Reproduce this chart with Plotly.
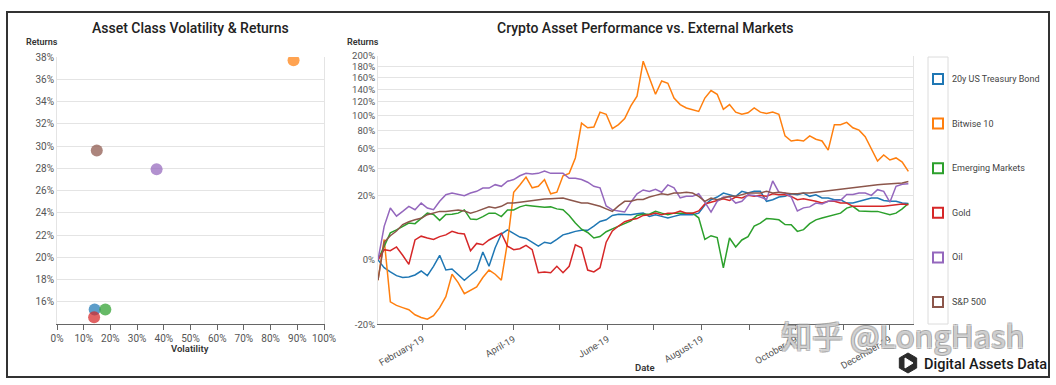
import numpy as np
import pandas as pd
import plotly.graph_objects as go

W, H = 1056, 385


def px(x):
    return x / W


def py(y):
    return 1 - y / H


# ---------------- data ----------------
assets = ["20y US Treasury Bond", "Bitwise 10", "Emerging Markets", "Gold", "Oil", "S&P 500"]
colors = ["#1f77b4", "#ff7f0e", "#2ca02c", "#d62728", "#9467bd", "#8c564b"]

# left panel: annualised volatility (%) and returns (%)
volatility = [14.1, 88.6, 18.1, 13.9, 37.3, 14.9]
returns = [15.3, 37.7, 15.3, 14.6, 27.9, 29.6]
vol_ticks = list(range(0, 101, 10))
ret_ticks = list(range(16, 39, 2))

# right panel: cumulative return (%) sampled through 2019
dates = pd.date_range("2019-01-03", periods=87, freq="4D")

treasury = [0, -0.3, -0.7, -1.2, -1.5, -1.4, -1.1, -0.6, -1.2, -0.2, 0.1, -0.5, -0.4, -1.0, -2.0, -1.1, -0.5, 0.3,
            -0.2, 0.7, 3.2, 4.3, 3.3, 2.5, 2.2, 1.5, 0.9, 1.5, 1.3, 2.0, 3.0, 3.4, 3.9, 4.2, 4.2, 5.5, 7.1, 7.7,
            9.5, 10, 9.8, 9.8, 10.2, 10.5, 9.1, 9.8, 9.1, 8.4, 9.1, 9.8, 9.8, 9.8, 10.5, 14.5, 17.4, 19, 21.5,
            20.4, 19.4, 22.6, 21.5, 22.6, 22.6, 16.5, 17.4, 19, 19.4, 21, 20.4, 21.5, 19.4, 20.4, 18.4, 18.4,
            17.4, 17.4, 15.5, 15.5, 16.5, 17.4, 18.4, 18.4, 17, 16.5, 16.5, 15.5, 15.3]
bitwise10 = [-2, 2, -8.5, -10, -11, -12, -14.5, -16, -17, -15, -11, -6.5, -1, -2.5, -5.5, -4.5, -3.5, -1.5,
             -0.5, -1, -2, 1.5, 22, 27, 33, 25, 26, 31, 21, 22, 34, 36, 50, 90, 84, 85, 105, 102, 83, 88, 96,
             114, 129, 190, 160, 132, 154, 150, 126, 116, 111, 109, 106, 126, 138, 132, 109, 116, 105, 102, 104,
             111, 105, 103, 105, 102, 74, 68, 69, 68, 74, 70, 68, 58, 88, 88, 91, 84, 81, 73, 58.5, 47, 53, 48,
             50, 46, 37.7]
emerging = [0, 1, 3.5, 4.3, 5.4, 6.5, 6.3, 8.3, 10.5, 9.9, 7.5, 9.9, 10, 10.5, 12, 8, 7.8, 9, 10.5, 10.5, 9,
            12, 12, 13.5, 14.4, 14, 13.8, 13.3, 13.5, 12.5, 12.1, 9.5, 6.5, 4.5, 3.6, 2.3, 2.6, 3.8, 4.6, 5.4,
            6.2, 7.3, 9.5, 10, 10, 11.3, 10.5, 9.8, 10.5, 10.5, 10.5, 10.5, 8.5, 2, 2.8, 2.4, -0.3, 2.3, 0.8,
            1.9, 2.6, 5.5, 6.5, 8.2, 8, 7.7, 6, 5.9, 3.9, 4.4, 6.3, 7.7, 8.4, 9, 9.8, 10.5, 12.9, 13.8, 11.5,
            11.3, 11.3, 11.3, 10.5, 9.8, 10.5, 12.5, 15.3]
gold = [0, 0.5, 0.4, 0.8, 0.1, -0.1, 1.9, 2.7, 2.3, 2, 2.6, 3, 3.9, 3.4, 3.2, 0.4, 1.3, 1.1, 1.9, 2.6, 3.4,
        0.9, 0.5, 0.6, 1, 0.5, -0.8, -0.7, -0.8, -0.2, -0.8, -0.2, 1.1, 0.7, -0.5, -0.7, -0.3, 1.5, 4, 5.5, 7,
        7.7, 8.2, 9.5, 9.8, 10.5, 9.8, 10.5, 10.5, 11.5, 10.5, 10.5, 11.5, 15, 16, 17, 18, 17, 19, 18.4, 20,
        19.4, 20, 19.4, 21, 20.4, 20.4, 19.4, 17.4, 18, 17.4, 16.5, 15.5, 16.5, 16.5, 15.5, 15.5, 13.8, 13.8,
        13.8, 13.8, 13.8, 13.8, 14.2, 14.6, 15, 14.6]
oil = [0, 5.4, 12.9, 9.2, 11.3, 13.8, 12.1, 15.5, 12.9, 12.1, 16.5, 20.4, 21.5, 20.4, 19.8, 21.5, 22.6, 24.8,
       24.8, 27.2, 26, 29.7, 31, 34, 36, 35.5, 36, 38, 36, 36, 36, 32, 32, 31, 29, 26, 25, 14, 12, 11.5, 11, 16,
       21, 23.5, 22.5, 24, 22, 27, 25, 18.5, 19.4, 19.4, 21, 16, 11, 16.5, 19, 19, 15.5, 16.5, 20.4, 20, 19,
       17.5, 30, 22, 21.5, 19, 11.5, 13, 13.5, 15.5, 15, 16.5, 17, 17, 20.5, 20.5, 21.5, 21.5, 20, 23.7, 22.6,
       16, 26, 27.5, 27.9]
sp500 = [-2, 1.5, 2.8, 4, 6, 7, 7.7, 8.3, 9.8, 10.5, 11.3, 11.3, 11.5, 12, 11.5, 10.5, 11.3, 12.5, 13.5, 13,
         13.8, 15.5, 15.5, 16, 16.5, 17, 17.4, 17.8, 18, 18, 18.4, 17.4, 16.5, 15.5, 15.5, 14.6, 13.8, 12.5,
         11.3, 14, 16.5, 16.5, 17.5, 17.5, 19, 20, 21, 20.4, 21.5, 21.5, 22, 21.5, 19.4, 16.5, 18.4, 17.4, 18.4,
         19.4, 19.4, 20.4, 21.5, 21.5, 21.5, 22.6, 21.5, 22, 21.5, 21, 21, 21.5, 21.5, 22, 22.5, 23, 23.5, 24,
         24.5, 25, 26, 26.5, 27, 27.2, 27.5, 27.9, 28, 28.5, 29.6]

series = [treasury, bitwise10, emerging, gold, oil, sp500]

y_ticks = [-20, 0, 20, 40, 60, 80, 100, 120, 140, 160, 180, 200]
x_tick_dates = ["2019-02-01", "2019-03-01", "2019-04-01", "2019-05-01", "2019-06-01", "2019-07-01",
                "2019-08-01", "2019-09-01", "2019-10-01", "2019-11-01", "2019-12-01"]
x_tick_text = ["February-19", "", "April-19", "", "June-19", "", "August-19", "", "October-19", "",
               "December-19"]


def ssqrt(v):
    a = np.asarray(v, dtype=float)
    return np.sign(a) * np.sqrt(np.abs(a))


# ---------------- figure ----------------
fig = go.Figure()

for name, col, vx, vy in zip(assets, colors, volatility, returns):
    fig.add_trace(go.Scatter(
        x=[vx], y=[vy], mode="markers", name=name,
        marker=dict(color=col, size=12, opacity=0.72, line=dict(width=0)),
        xaxis="x", yaxis="y", showlegend=False,
        hovertemplate=name + "<br>Volatility %{x}%<br>Returns %{y}%<extra></extra>"))

for name, col, vals in zip(assets, colors, series):
    fig.add_trace(go.Scatter(
        x=dates, y=ssqrt(vals), mode="lines", name=name,
        line=dict(color=col, width=1.5),
        customdata=vals, xaxis="x2", yaxis="y2", showlegend=False,
        hovertemplate=name + "<br>%{x|%b %d}<br>%{customdata}%<extra></extra>"))

grid = "#e4e4e4"
tickfont = dict(family="Roboto", size=10, color="#555")

fig.update_layout(
    width=W, height=385,
    margin=dict(l=0, r=0, t=0, b=0, autoexpand=False),
    paper_bgcolor="white", plot_bgcolor="white",
    font=dict(family="Roboto", color="#333"),
    showlegend=False,
    xaxis=dict(domain=[px(57), px(324)], range=[0, 100], tickmode="array", tickvals=vol_ticks,
               ticktext=[f"{t}%" for t in vol_ticks], ticks="outside", ticklen=5, tickcolor="#666",
               showline=True, linecolor="#666", linewidth=1, showgrid=False, zeroline=False,
               tickfont=tickfont, automargin=False, fixedrange=True),
    yaxis=dict(domain=[py(324), py(57)], range=[14.0, 38.0], tickmode="array", tickvals=ret_ticks,
               ticktext=[f"{t}%" for t in ret_ticks], ticks="", showgrid=True, gridcolor=grid,
               showline=True, linecolor=grid, mirror=True, zeroline=False, tickfont=tickfont,
               automargin=False, fixedrange=True),
    xaxis2=dict(domain=[px(378), px(913)], type="date", range=["2019-01-03", "2019-12-16"],
                tickmode="array", tickvals=x_tick_dates, ticktext=x_tick_text, tickangle=-30,
                ticks="outside", ticklen=5, tickcolor="#666", showline=True, linecolor="#666",
                showgrid=False, zeroline=False, tickfont=dict(family="Roboto", size=9.5, color="#555"),
                anchor="y2", automargin=False),
    yaxis2=dict(domain=[py(324.3), py(56)], range=[-np.sqrt(20), np.sqrt(200)],
                tickmode="array", tickvals=list(ssqrt(y_ticks)), ticktext=[f"{t}%" for t in y_ticks],
                ticks="", showgrid=True, gridcolor=grid, showline=True, linecolor=grid, mirror=True,
                zeroline=False, tickfont=dict(family="Roboto", size=9.5, color="#555"), anchor="x2",
                automargin=False),
)

annotations = [
    dict(x=px(190), y=py(28), text="Asset Class Volatility & Returns",
         font=dict(size=14, color="#222", weight=500)),
    dict(x=px(645), y=py(28), text="Crypto Asset Performance vs. External Markets",
         font=dict(size=14, color="#222", weight=500)),
    dict(x=px(42), y=py(42), text="Returns", font=dict(size=9, color="#333", weight=600)),
    dict(x=px(363), y=py(42), text="Returns", font=dict(size=9, color="#333", weight=600)),
    dict(x=px(190), y=py(348), text="Volatility", font=dict(size=9.5, color="#333", weight=600)),
    dict(x=px(645), y=py(367), text="Date", font=dict(size=9.5, color="#333", weight=600)),
    dict(x=px(902), y=py(334), text="知乎 @LongHash",
         font=dict(family="Noto Sans CJK SC", size=31, color="rgba(255,255,255,0.55)",
                   shadow="1px 1px 0 #8a8a8a, -1px -1px 0 #8a8a8a, 1px -1px 0 #8a8a8a, -1px 1px 0 #8a8a8a")),
    dict(x=px(985), y=py(364), text="Digital Assets Data",
         font=dict(family="Roboto", size=14.5, color="#1a1a1a", weight=500)),
]

shapes = [
    dict(type="rect", xref="paper", yref="paper", x0=px(7), x1=px(1049), y0=py(377), y1=py(12),
         line=dict(color="#333", width=2)),
    dict(type="rect", xref="paper", yref="paper", x0=px(928), x1=px(948), y0=py(324), y1=py(57),
         line=dict(color="#dcdcdc", width=1)),
]

# legend (drawn manually to reproduce the spaced column of outlined squares)
for i, (name, col) in enumerate(zip(assets, colors)):
    cy = 79 + 44.6 * i
    shapes.append(dict(type="rect", xref="paper", yref="paper",
                       x0=px(933), x1=px(943), y0=py(cy + 5), y1=py(cy - 5),
                       line=dict(color=col, width=2)))
    annotations.append(dict(x=px(950), y=py(cy), text=name, xanchor="left",
                            font=dict(family="Roboto", size=9, color="#444")))

# logo mark
cx, cy, r = 908, 363, 10
hexpts = [(cx + r * np.cos(np.pi / 6 + k * np.pi / 3), cy + r * np.sin(np.pi / 6 + k * np.pi / 3)) for k in range(6)]
path = "M " + " L ".join(f"{px(a):.5f},{py(b):.5f}" for a, b in hexpts) + " Z"
shapes.append(dict(type="path", xref="paper", yref="paper", path=path, fillcolor="#2b2b2b",
                   line=dict(color="#2b2b2b", width=1)))
tri = [(cx - 3, cy - 5), (cx + 5, cy), (cx - 3, cy + 5)]
path2 = "M " + " L ".join(f"{px(a):.5f},{py(b):.5f}" for a, b in tri) + " Z"
shapes.append(dict(type="path", xref="paper", yref="paper", path=path2, fillcolor="white",
                   line=dict(color="white", width=1)))

for a in annotations:
    a.setdefault("xref", "paper")
    a.setdefault("yref", "paper")
    a.setdefault("showarrow", False)
    a.setdefault("xanchor", "center")
    a.setdefault("yanchor", "middle")

fig.update_layout(annotations=annotations, shapes=shapes)

fig.write_html("out.html", config={"displayModeBar": False},
               post_script="document.body.style.margin='0';document.body.style.overflow='hidden';")
